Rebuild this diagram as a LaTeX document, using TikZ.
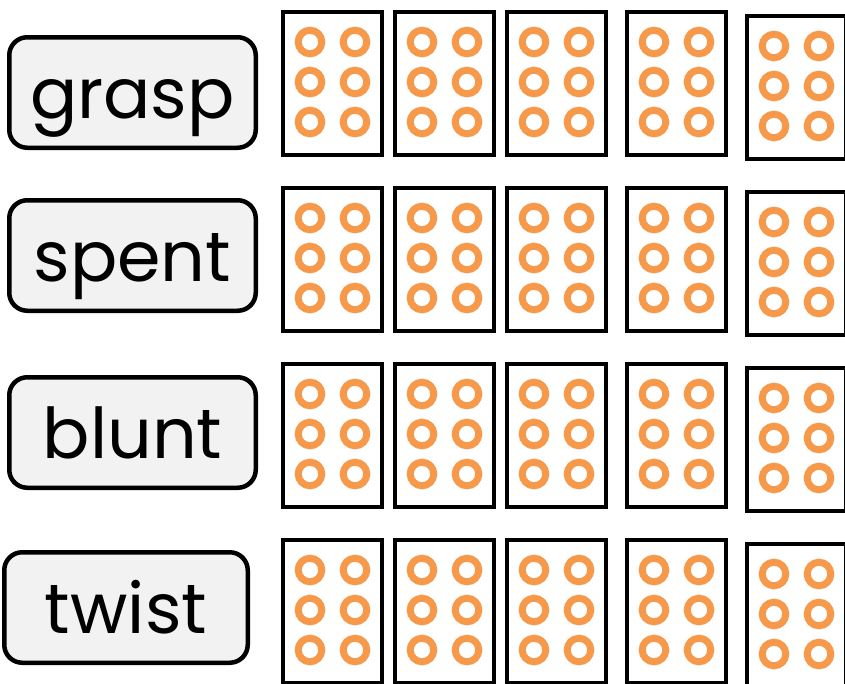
\documentclass[tikz,border=0pt]{standalone}
\usepackage{fontspec}
\setmainfont{Poppins}
\definecolor{boxgray}{HTML}{F2F2F2}
\definecolor{dotorange}{HTML}{F6994A}
\begin{document}
\begin{tikzpicture}[x=1pt,y=-1pt,
  lbl/.style={draw=black, line width=4.5pt, fill=boxgray, rounded corners=18pt,
    minimum width=246.5pt, minimum height=110.5pt, inner sep=0pt,
    text height=51pt, text depth=0pt, font=\fontsize{70}{78}\selectfont},
  cellbox/.style={draw=black, line width=4pt, fill=white,
    minimum width=99pt, minimum height=143pt, inner sep=0pt},
  dot/.style={draw=dotorange, line width=7pt}]
\useasboundingbox (0,0) rectangle (845,683);
\node[lbl] (l1) at (132.5,92.5) {grasp};
\node[lbl] (l2) at (132.5,255.5) {spent};
\node[lbl] (l3) at (132.5,432.5) {blunt};
\node[lbl, minimum width=243.5pt] (l4) at (126,607.5) {twist};
\foreach \r/\t in {1/10,2/186,3/362,4/538}{
  \foreach \c/\l/\dy in {1/281/0,2/393/0,3/505/0,4/625/0,5/745/4}{
    \node[cellbox] (c-\r-\c) at (\l+51.5,\t+\dy+73.5) {};
    \foreach \dx in {29,74}{
      \foreach \ddy in {32,72,112}{
        \draw[dot] (\l+\dx,\t+\dy+\ddy) circle (11.8);
      }
    }
  }
}
\end{tikzpicture}
\end{document}
